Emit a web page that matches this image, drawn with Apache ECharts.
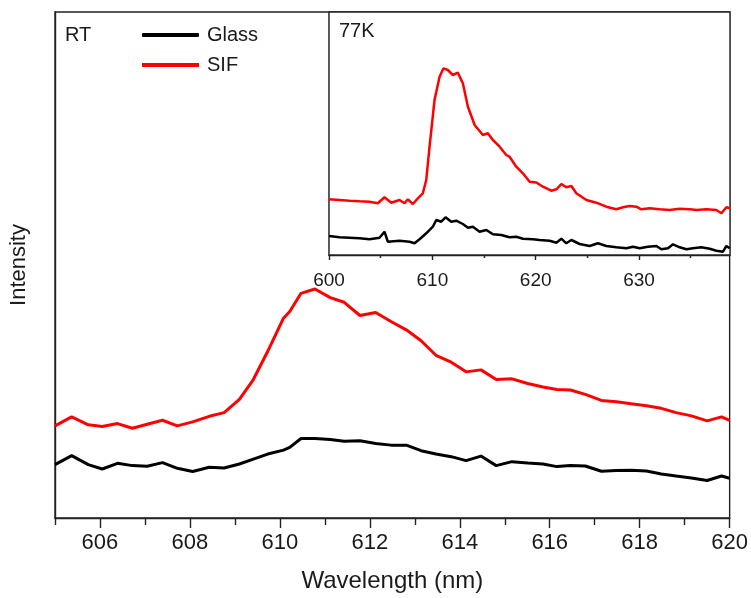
<!DOCTYPE html>
<html>
<head>
<meta charset="utf-8">
<script src="https://cdn.jsdelivr.net/npm/echarts@6/dist/echarts.min.js"></script>
<style>
  html, body { margin: 0; padding: 0; background: #fff; }
  #chart { width: 751px; height: 598px; }
</style>
</head>
<body>
<div id="chart"></div>
<script>
// Room-temperature spectra (main panel)
const rtWavelength = [605.00, 605.37, 605.74, 606.05, 606.39, 606.72, 607.05, 607.39, 607.72, 608.06,
  608.43, 608.76, 609.10, 609.41, 609.73, 610.08, 610.22, 610.47, 610.78, 611.12,
  611.43, 611.78, 612.13, 612.47, 612.81, 613.14, 613.47, 613.81, 614.14, 614.47,
  614.81, 615.16, 615.51, 615.85, 616.16, 616.46, 616.79, 617.15, 617.48, 617.81,
  618.15, 618.48, 618.81, 619.15, 619.50, 619.82, 620.00];
const rtSif = [92.7, 101.7, 93.7, 92, 95, 90.3, 94.3, 98.3, 92.7, 96.7,
  102.3, 106, 119.3, 139.3, 167.7, 201, 207.7, 226, 230.3, 221.7,
  217, 203.7, 206.7, 197.7, 189.3, 178.3, 163.7, 156.7, 147, 149,
  139.3, 140, 135.3, 131.7, 129.3, 128.7, 124.3, 118.3, 117, 115,
  113, 110.3, 106, 102.7, 97.7, 101.7, 98.3];
const rtGlass = [53.7, 62.7, 53.7, 49.3, 55, 52.7, 52, 55.7, 50, 46.7,
  51, 50.3, 54.3, 59.3, 64.3, 68.3, 71, 80, 80, 79,
  77.3, 77.7, 75, 73.3, 73.3, 67.7, 64.3, 61.7, 57.7, 62.3,
  52.7, 56.7, 55.3, 54.3, 51.7, 52.7, 52.3, 47, 47.7, 48,
  47.3, 44.3, 42.3, 40.3, 37.7, 42.3, 40];

// 77 K spectra (inset)
const lowSifWavelength = [600.0, 601.02, 601.98, 602.95, 603.92, 604.72, 605.37, 606.02, 606.82, 607.31,
  607.63, 608.11, 608.60, 609.08, 609.41, 609.73, 610.21, 610.70, 611.08, 611.50,
  611.98, 612.47, 612.95, 613.44, 614.09, 614.89, 615.37, 615.86, 616.51, 617.15,
  617.47, 618.12, 618.76, 619.41, 620.06, 620.70, 621.51, 622.0, 622.48, 622.96,
  623.45, 623.93, 624.90, 625.87, 626.83, 627.80, 628.44, 629.09, 629.74, 630.22,
  631.03, 632.0, 632.96, 633.93, 634.90, 635.55, 636.51, 637.48, 637.97, 638.45, 638.77];
const lowSif = [55.7, 55, 54.3, 53.7, 53.3, 51.7, 57.7, 52.3, 55, 51.7,
  55.7, 51, 56.7, 61.7, 75, 108.3, 155, 178.3, 186.7, 185,
  180, 182.3, 171.7, 148.3, 130, 120, 121.7, 115, 108.3, 100,
  98.3, 88.3, 81.7, 73.3, 72.5, 68.3, 64.3, 65.7, 71, 67.7,
  69, 61.7, 55, 52.3, 48.3, 45.7, 47.7, 49, 48.3, 45.7,
  46.7, 45.7, 45, 46.3, 45.7, 45, 45.7, 45, 41.7, 47.7, 46.7];
const lowGlassWavelength = [600.0, 601.02, 601.98, 602.95, 603.92, 604.89, 605.37, 605.69, 606.82, 607.79,
  608.28, 608.76, 609.41, 610.05, 610.38, 610.86, 611.28, 611.83, 612.31, 612.95,
  613.44, 613.92, 614.57, 615.22, 615.86, 616.67, 617.47, 618.12, 618.76, 619.73,
  620.38, 621.35, 622.0, 622.48, 622.96, 623.45, 624.25, 625.22, 626.02, 626.83,
  627.80, 628.77, 629.41, 630.06, 630.86, 631.68, 632.16, 632.80, 633.29, 633.93,
  634.58, 635.22, 636.03, 636.84, 637.48, 638.12, 638.45, 638.77];
const lowGlass = [19, 17.7, 17.3, 16.7, 15.7, 17.3, 23.3, 13.3, 14.3, 13.3,
  11.7, 15.7, 21.7, 28.3, 35, 33.3, 37.7, 33.3, 34.3, 31,
  27.3, 28.3, 23.3, 25, 20.7, 20, 17.7, 18.3, 16.3, 15.7,
  15, 14.3, 12.3, 16.3, 11.7, 15, 11, 9, 11.7, 9,
  7.7, 6.7, 8.3, 6.7, 8.3, 9, 5.7, 6.7, 10.7, 7.7,
  5.7, 6.7, 7.7, 6.3, 4.3, 3.3, 9, 6.7];

// Tick positions
const rtMajorTicks = [606, 608, 610, 612, 614, 616, 618, 620];
const rtMinorTicks = [605, 607, 609, 611, 613, 615, 617, 619];
const lowMajorTicks = [600, 610, 620, 630];
const lowMinorTicks = [605, 615, 625, 635];

const pairs = (xs, ys) => xs.map((x, i) => [x, ys[i]]);

const FONT = 'Liberation Sans, Arial, sans-serif';
const TEXT = '#1a1a1a';
const RED = '#ff0000';
const BLACK = '#000000';

const chart = echarts.init(document.getElementById('chart'), null, { renderer: 'canvas' });

chart.setOption({
  animation: false,
  backgroundColor: '#ffffff',
  grid: [
    { left: 55, right: 20, top: 12, bottom: 77, show: true, borderColor: '#222', borderWidth: 1.4, backgroundColor: 'transparent' },
    { left: 329, top: 12, width: 401, height: 243, show: true, borderColor: '#222', borderWidth: 1.4, backgroundColor: '#ffffff', z: 3 }
  ],
  xAxis: [
    {
      gridIndex: 0, type: 'value', min: 605, max: 620,
      name: 'Wavelength (nm)', nameLocation: 'middle', nameGap: 51,
      nameTextStyle: { fontFamily: FONT, fontSize: 24, color: TEXT },
      axisLine: { show: true, lineStyle: { color: '#222', width: 1.4 } },
      axisTick: { show: true, inside: false, length: 7, customValues: rtMinorTicks, lineStyle: { color: '#222', width: 1.4 } },
      axisLabel: { show: true, customValues: rtMajorTicks, margin: 14, fontFamily: FONT, fontSize: 22, color: TEXT },
      splitLine: { show: false }
    },
    {
      gridIndex: 0, type: 'value', min: 605, max: 620, position: 'bottom',
      axisLine: { show: false },
      axisTick: { show: true, inside: false, length: 10, customValues: rtMajorTicks, lineStyle: { color: '#222', width: 1.4 } },
      axisLabel: { show: false },
      splitLine: { show: false }
    },
    {
      gridIndex: 1, type: 'value', min: 600, max: 638.8,
      axisLine: { show: true, lineStyle: { color: '#222', width: 1.4 } },
      axisTick: { show: true, inside: false, length: 5, customValues: lowMajorTicks, lineStyle: { color: '#222', width: 1.4 } },
      axisLabel: { show: true, customValues: lowMajorTicks, margin: 16, fontFamily: FONT, fontSize: 19, color: TEXT },
      splitLine: { show: false }
    },
    {
      gridIndex: 1, type: 'value', min: 600, max: 638.8, position: 'bottom',
      axisLine: { show: false },
      axisTick: { show: true, inside: false, length: 3, customValues: lowMinorTicks, lineStyle: { color: '#222', width: 1.4 } },
      axisLabel: { show: false },
      splitLine: { show: false }
    }
  ],
  yAxis: [
    {
      gridIndex: 0, type: 'value', min: 0, max: 509,
      name: 'Intensity', nameLocation: 'middle', nameGap: 25,
      nameTextStyle: { fontFamily: FONT, fontSize: 22, color: TEXT },
      axisLine: { show: true, lineStyle: { color: '#222', width: 1.4 } },
      axisTick: { show: false }, axisLabel: { show: false }, splitLine: { show: false }
    },
    {
      gridIndex: 1, type: 'value', min: 0, max: 243,
      axisLine: { show: true, lineStyle: { color: '#222', width: 1.4 } },
      axisTick: { show: false }, axisLabel: { show: false }, splitLine: { show: false }
    }
  ],
  legend: {
    orient: 'vertical', left: 142, top: 25, padding: 0,
    itemWidth: 57, itemHeight: 4, itemGap: 10,
    data: [{ name: 'Glass', icon: 'roundRect' }, { name: 'SIF', icon: 'rect' }],
    textStyle: { fontFamily: FONT, fontSize: 20, color: TEXT, lineHeight: 20, padding: [0, 0, 0, 3] },
    selectedMode: false
  },
  graphic: [
    { type: 'text', left: 65, top: 25, z: 10, style: { text: 'RT', font: '20px ' + FONT, fill: TEXT } },
    { type: 'text', left: 339, top: 21, z: 10, style: { text: '77K', font: '20px ' + FONT, fill: TEXT } }
  ],
  series: [
    { name: 'Glass', type: 'line', xAxisIndex: 0, yAxisIndex: 0, data: pairs(rtWavelength, rtGlass),
      symbol: 'none', lineStyle: { color: BLACK, width: 3 }, itemStyle: { color: BLACK } },
    { name: 'SIF', type: 'line', xAxisIndex: 0, yAxisIndex: 0, data: pairs(rtWavelength, rtSif),
      symbol: 'none', lineStyle: { color: RED, width: 3 }, itemStyle: { color: RED } },
    { name: 'Glass', type: 'line', xAxisIndex: 2, yAxisIndex: 1, data: pairs(lowGlassWavelength, lowGlass), z: 5,
      symbol: 'none', lineStyle: { color: BLACK, width: 2.5 }, itemStyle: { color: BLACK } },
    { name: 'SIF', type: 'line', xAxisIndex: 2, yAxisIndex: 1, data: pairs(lowSifWavelength, lowSif), z: 5,
      symbol: 'none', lineStyle: { color: RED, width: 2.5 }, itemStyle: { color: RED } }
  ]
});
</script>
</body>
</html>
